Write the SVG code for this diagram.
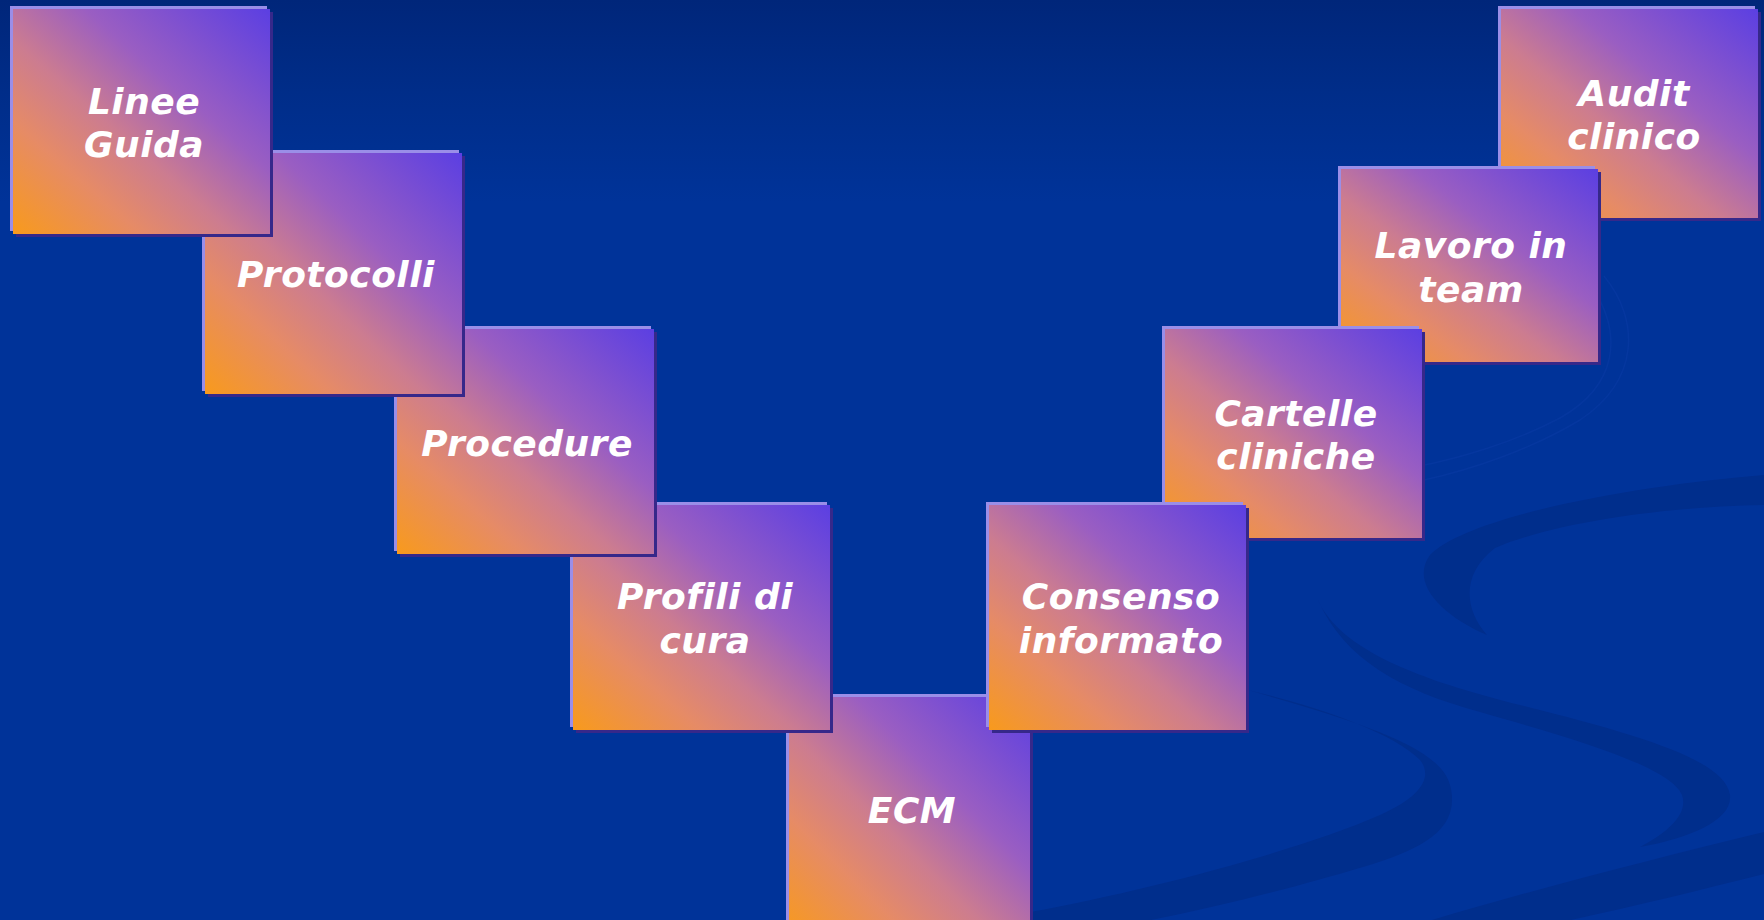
<svg xmlns="http://www.w3.org/2000/svg" width="1764" height="920" viewBox="0 0 1764 920">
<defs>
<linearGradient id="bg" x1="0" y1="0" x2="0" y2="1">
<stop offset="0" stop-color="#00267a"/>
<stop offset="0.1" stop-color="#002d89"/>
<stop offset="0.22" stop-color="#003399"/>
<stop offset="1" stop-color="#003399"/>
</linearGradient>
<linearGradient id="face" x1="0" y1="1" x2="1" y2="0">
<stop offset="0" stop-color="#f89a1c"/>
<stop offset="0.25" stop-color="#e68b66"/>
<stop offset="0.43" stop-color="#cc7c90"/>
<stop offset="0.64" stop-color="#9a5ec2"/>
<stop offset="1" stop-color="#5b3fe2"/>
</linearGradient>
<style>
.hi{fill:#9a8ee8}
.sh{fill:#36288a}
.face{fill:url(#face)}
.lbl{fill:#ffffff;font-family:"DejaVu Sans",Verdana,sans-serif;font-weight:bold;font-style:italic;font-size:36px;letter-spacing:0.5px;text-anchor:middle}
.sw{fill:#002e8c}
.fl{fill:none;stroke:#0a3ca6;stroke-width:1.5;opacity:0.45}
</style>
</defs>
<rect x="0" y="0" width="1764" height="920" fill="url(#bg)"/>
<g id="background-swooshes">
<path class="sw" d="M1764,475 C1640,485 1470,515 1430,555 C1410,582 1440,615 1487,635 C1465,610 1460,575 1495,548 C1560,520 1680,506 1764,505 Z"/>
<path class="sw" d="M1248,690 C1350,720 1440,745 1450,785 C1462,830 1420,850 1363,867 C1280,892 1150,925 1030,940 L1030,912 C1150,890 1300,850 1380,815 C1425,795 1432,775 1420,760 C1390,730 1310,705 1248,690 Z"/>
<path class="sw" d="M1318,600 C1340,650 1420,680 1520,705 C1640,735 1725,760 1730,795 C1733,820 1690,838 1640,847 C1672,830 1688,812 1682,795 C1670,765 1560,735 1480,712 C1400,690 1345,660 1318,600 Z"/>
<path class="sw" d="M1432,920 C1550,885 1650,860 1764,832 L1764,874 C1700,890 1640,905 1571,920 Z"/>
<path class="fl" d="M1604,276 C1640,320 1640,380 1580,420 C1530,450 1470,470 1424,480"/>
<path class="fl" d="M1594,290 C1622,335 1618,385 1560,418 C1515,442 1460,458 1420,466"/>
</g>
<g id="connectors"></g>
<g id="n-ecm">
<rect class="hi" x="786" y="694" width="241" height="240"/>
<rect class="sh" x="792" y="700" width="241" height="240"/>
<rect class="face" x="789" y="697" width="241" height="240"/>
<text class="lbl" x="912" y="823">ECM</text>
</g>
<g id="n-profili">
<rect class="hi" x="570" y="502" width="257" height="225"/>
<rect class="sh" x="576" y="508" width="257" height="225"/>
<rect class="face" x="573" y="505" width="257" height="225"/>
<text class="lbl" x="705" y="609">Profili di</text>
<text class="lbl" x="705" y="653">cura</text>
</g>
<g id="n-procedure">
<rect class="hi" x="394" y="326" width="257" height="225"/>
<rect class="sh" x="400" y="332" width="257" height="225"/>
<rect class="face" x="397" y="329" width="257" height="225"/>
<text class="lbl" x="527" y="456">Procedure</text>
</g>
<g id="n-protocolli">
<rect class="hi" x="202" y="150" width="257" height="241"/>
<rect class="sh" x="208" y="156" width="257" height="241"/>
<rect class="face" x="205" y="153" width="257" height="241"/>
<text class="lbl" x="336" y="287">Protocolli</text>
</g>
<g id="n-linee-guida">
<rect class="hi" x="10" y="6" width="257" height="225"/>
<rect class="sh" x="16" y="12" width="257" height="225"/>
<rect class="face" x="13" y="9" width="257" height="225"/>
<text class="lbl" x="144" y="114">Linee</text>
<text class="lbl" x="144" y="157">Guida</text>
</g>
<g id="n-audit">
<rect class="hi" x="1498" y="6" width="257" height="209"/>
<rect class="sh" x="1504" y="12" width="257" height="209"/>
<rect class="face" x="1501" y="9" width="257" height="209"/>
<text class="lbl" x="1634" y="106">Audit</text>
<text class="lbl" x="1634" y="149">clinico</text>
</g>
<g id="n-lavoro">
<rect class="hi" x="1338" y="166" width="257" height="193"/>
<rect class="sh" x="1344" y="172" width="257" height="193"/>
<rect class="face" x="1341" y="169" width="257" height="193"/>
<text class="lbl" x="1471" y="258">Lavoro in</text>
<text class="lbl" x="1471" y="302">team</text>
</g>
<g id="n-cartelle">
<rect class="hi" x="1162" y="326" width="257" height="209"/>
<rect class="sh" x="1168" y="332" width="257" height="209"/>
<rect class="face" x="1165" y="329" width="257" height="209"/>
<text class="lbl" x="1296" y="426">Cartelle</text>
<text class="lbl" x="1296" y="469">cliniche</text>
</g>
<g id="n-consenso">
<rect class="hi" x="986" y="502" width="257" height="225"/>
<rect class="sh" x="992" y="508" width="257" height="225"/>
<rect class="face" x="989" y="505" width="257" height="225"/>
<text class="lbl" x="1121" y="609">Consenso</text>
<text class="lbl" x="1121" y="653">informato</text>
</g>
</svg>
